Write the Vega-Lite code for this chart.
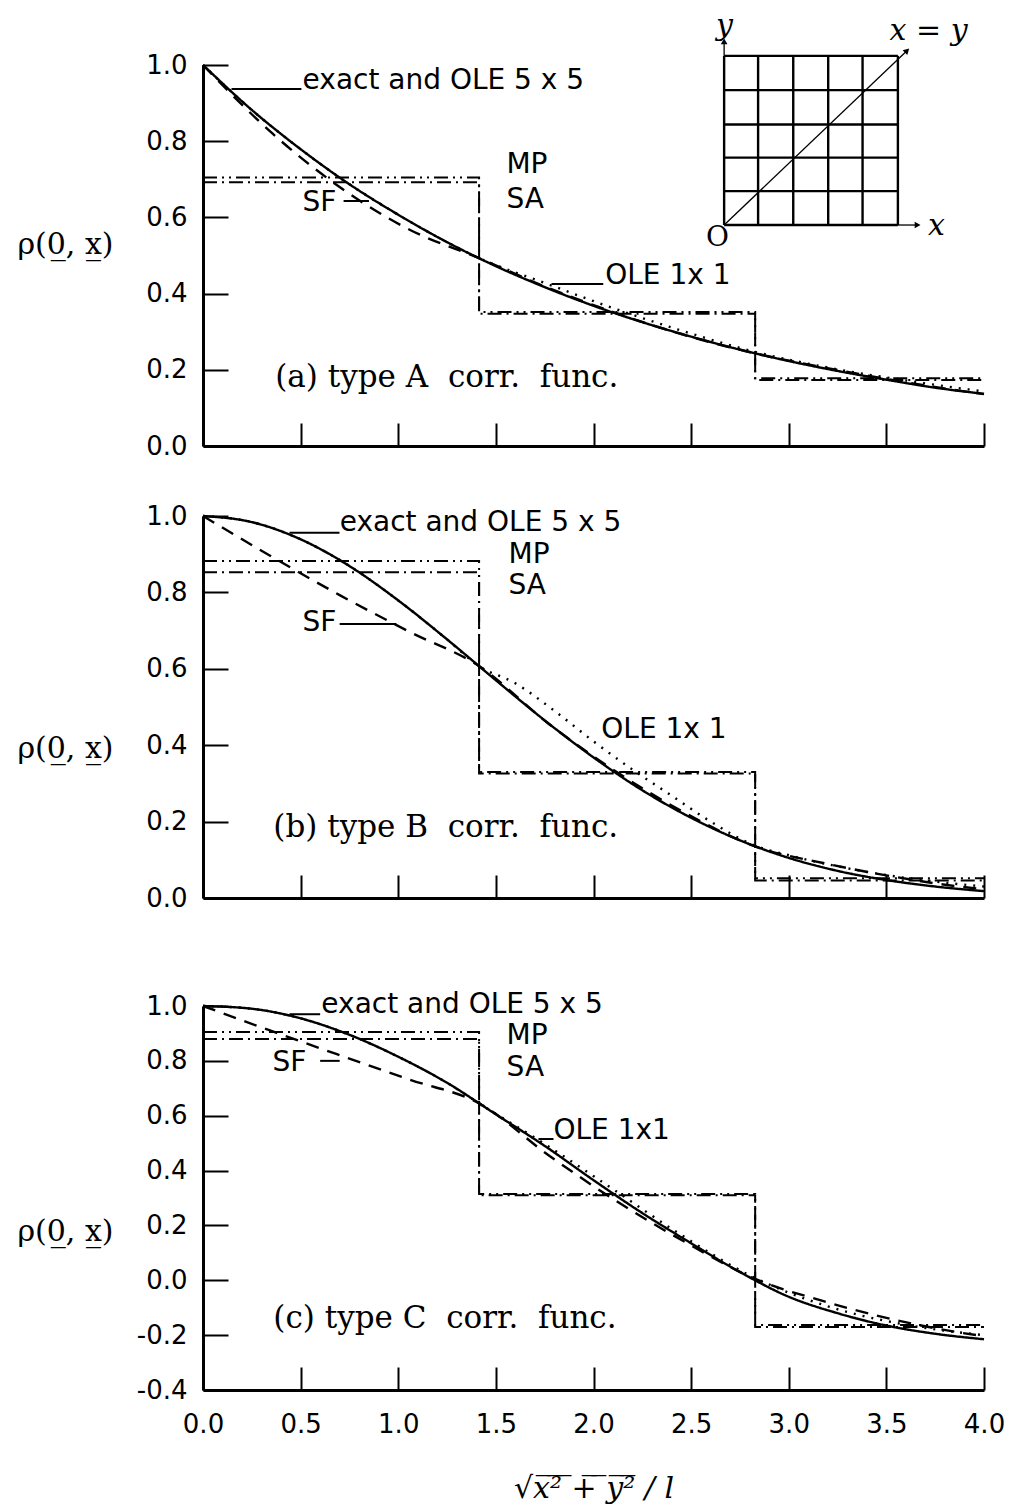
{
"$schema":"https://vega.github.io/schema/vega-lite/v6.json",
"padding":{"left":16,"top":11,"right":4,"bottom":4},
"background":"white",
"bounds":"flush",
"spacing":10,
"config":{
 "view":{"stroke":null},
 "axis":{"domainColor":"black","domainWidth":3,"tickColor":"black","tickWidth":2,"labelFont":"DejaVu Sans","labelFontSize":26,"labelColor":"black","grid":false,"titleFont":"DejaVu Serif","titleFontWeight":"normal","titleColor":"black","titleFontSize":30,"labelFlush":false,"labelOverlap":false,"labelExpr":"replace(datum.label, '\u2212', '-')"},
 "axisY":{"tickSize":-25,"labelPadding":41,"titleAngle":0,"titleX":-138,"titleAlign":"center","titleBaseline":"middle"},
 "axisX":{"tickSize":-23,"labelPadding":44}
},
"datasets":{
 "curves":[
{"p":"a","s":"exact","i":0,"x":0,"y":1},{"p":"a","s":"exact","i":1,"x":0.25,"y":0.882},{"p":"a","s":"exact","i":2,"x":0.5,"y":0.779},{"p":"a","s":"exact","i":3,"x":0.75,"y":0.687},{"p":"a","s":"exact","i":4,"x":1,"y":0.607},{"p":"a","s":"exact","i":5,"x":1.25,"y":0.535},{"p":"a","s":"exact","i":6,"x":1.5,"y":0.472},{"p":"a","s":"exact","i":7,"x":1.75,"y":0.417},{"p":"a","s":"exact","i":8,"x":2,"y":0.368},{"p":"a","s":"exact","i":9,"x":2.25,"y":0.325},{"p":"a","s":"exact","i":10,"x":2.5,"y":0.287},{"p":"a","s":"exact","i":11,"x":2.75,"y":0.253},{"p":"a","s":"exact","i":12,"x":3,"y":0.223},{"p":"a","s":"exact","i":13,"x":3.25,"y":0.197},{"p":"a","s":"exact","i":14,"x":3.5,"y":0.174},{"p":"a","s":"exact","i":15,"x":3.75,"y":0.153},{"p":"a","s":"exact","i":16,"x":4,"y":0.137},
{"p":"a","s":"SF","i":0,"x":0,"y":1},{"p":"a","s":"SF","i":1,"x":0.354,"y":0.821},{"p":"a","s":"SF","i":2,"x":0.707,"y":0.677},{"p":"a","s":"SF","i":3,"x":1.061,"y":0.567},{"p":"a","s":"SF","i":4,"x":1.414,"y":0.493},{"p":"a","s":"SF","i":5,"x":1.768,"y":0.415},{"p":"a","s":"SF","i":6,"x":2.121,"y":0.348},{"p":"a","s":"SF","i":7,"x":2.475,"y":0.29},{"p":"a","s":"SF","i":8,"x":2.828,"y":0.243},{"p":"a","s":"SF","i":9,"x":3.182,"y":0.206},{"p":"a","s":"SF","i":10,"x":3.536,"y":0.173},{"p":"a","s":"SF","i":11,"x":3.889,"y":0.144},{"p":"a","s":"SF","i":12,"x":4,"y":0.136},
{"p":"a","s":"OLE1","i":0,"x":0,"y":1},{"p":"a","s":"OLE1","i":1,"x":0.25,"y":0.882},{"p":"a","s":"OLE1","i":2,"x":0.5,"y":0.779},{"p":"a","s":"OLE1","i":3,"x":0.75,"y":0.687},{"p":"a","s":"OLE1","i":4,"x":1,"y":0.607},{"p":"a","s":"OLE1","i":5,"x":1.25,"y":0.535},{"p":"a","s":"OLE1","i":6,"x":1.414,"y":0.493},{"p":"a","s":"OLE1","i":7,"x":1.75,"y":0.428},{"p":"a","s":"OLE1","i":8,"x":2.1,"y":0.362},{"p":"a","s":"OLE1","i":9,"x":2.45,"y":0.303},{"p":"a","s":"OLE1","i":10,"x":2.828,"y":0.247},{"p":"a","s":"OLE1","i":11,"x":3.2,"y":0.206},{"p":"a","s":"OLE1","i":12,"x":3.6,"y":0.172},{"p":"a","s":"OLE1","i":13,"x":4,"y":0.143},
{"p":"a","s":"MP","i":0,"x":0,"y":0.705},{"p":"a","s":"MP","i":1,"x":1.414,"y":0.705},{"p":"a","s":"MP","i":2,"x":1.414,"y":0.352},{"p":"a","s":"MP","i":3,"x":2.828,"y":0.352},{"p":"a","s":"MP","i":4,"x":2.828,"y":0.178},{"p":"a","s":"MP","i":5,"x":4,"y":0.178},
{"p":"a","s":"SA","i":0,"x":0,"y":0.692},{"p":"a","s":"SA","i":1,"x":1.414,"y":0.692},{"p":"a","s":"SA","i":2,"x":1.414,"y":0.347},{"p":"a","s":"SA","i":3,"x":2.828,"y":0.347},{"p":"a","s":"SA","i":4,"x":2.828,"y":0.173},{"p":"a","s":"SA","i":5,"x":4,"y":0.173},
{"p":"b","s":"exact","i":0,"x":0,"y":1},{"p":"b","s":"exact","i":1,"x":0.25,"y":0.984},{"p":"b","s":"exact","i":2,"x":0.5,"y":0.939},{"p":"b","s":"exact","i":3,"x":0.75,"y":0.869},{"p":"b","s":"exact","i":4,"x":1,"y":0.779},{"p":"b","s":"exact","i":5,"x":1.25,"y":0.677},{"p":"b","s":"exact","i":6,"x":1.5,"y":0.57},{"p":"b","s":"exact","i":7,"x":1.75,"y":0.465},{"p":"b","s":"exact","i":8,"x":2,"y":0.368},{"p":"b","s":"exact","i":9,"x":2.25,"y":0.282},{"p":"b","s":"exact","i":10,"x":2.5,"y":0.21},{"p":"b","s":"exact","i":11,"x":2.75,"y":0.151},{"p":"b","s":"exact","i":12,"x":3,"y":0.105},{"p":"b","s":"exact","i":13,"x":3.25,"y":0.071},{"p":"b","s":"exact","i":14,"x":3.5,"y":0.047},{"p":"b","s":"exact","i":15,"x":3.75,"y":0.03},{"p":"b","s":"exact","i":16,"x":4,"y":0.018},
{"p":"b","s":"SF","i":0,"x":0,"y":1},{"p":"b","s":"SF","i":1,"x":0.354,"y":0.893},{"p":"b","s":"SF","i":2,"x":0.707,"y":0.791},{"p":"b","s":"SF","i":3,"x":1.061,"y":0.696},{"p":"b","s":"SF","i":4,"x":1.414,"y":0.607},{"p":"b","s":"SF","i":5,"x":1.768,"y":0.457},{"p":"b","s":"SF","i":6,"x":2.121,"y":0.329},{"p":"b","s":"SF","i":7,"x":2.475,"y":0.221},{"p":"b","s":"SF","i":8,"x":2.828,"y":0.135},{"p":"b","s":"SF","i":9,"x":3.182,"y":0.091},{"p":"b","s":"SF","i":10,"x":3.536,"y":0.056},{"p":"b","s":"SF","i":11,"x":3.889,"y":0.029},{"p":"b","s":"SF","i":12,"x":4,"y":0.023},
{"p":"b","s":"OLE1","i":0,"x":0,"y":1},{"p":"b","s":"OLE1","i":1,"x":0.25,"y":0.984},{"p":"b","s":"OLE1","i":2,"x":0.5,"y":0.939},{"p":"b","s":"OLE1","i":3,"x":0.75,"y":0.869},{"p":"b","s":"OLE1","i":4,"x":1,"y":0.779},{"p":"b","s":"OLE1","i":5,"x":1.25,"y":0.677},{"p":"b","s":"OLE1","i":6,"x":1.414,"y":0.607},{"p":"b","s":"OLE1","i":7,"x":1.6,"y":0.562},{"p":"b","s":"OLE1","i":8,"x":1.8,"y":0.49},{"p":"b","s":"OLE1","i":9,"x":2,"y":0.41},{"p":"b","s":"OLE1","i":10,"x":2.2,"y":0.336},{"p":"b","s":"OLE1","i":11,"x":2.4,"y":0.268},{"p":"b","s":"OLE1","i":12,"x":2.6,"y":0.2},{"p":"b","s":"OLE1","i":13,"x":2.828,"y":0.137},{"p":"b","s":"OLE1","i":14,"x":3,"y":0.112},{"p":"b","s":"OLE1","i":15,"x":3.25,"y":0.083},{"p":"b","s":"OLE1","i":16,"x":3.5,"y":0.06},{"p":"b","s":"OLE1","i":17,"x":3.75,"y":0.043},{"p":"b","s":"OLE1","i":18,"x":4,"y":0.03},
{"p":"b","s":"MP","i":0,"x":0,"y":0.882},{"p":"b","s":"MP","i":1,"x":1.414,"y":0.882},{"p":"b","s":"MP","i":2,"x":1.414,"y":0.33},{"p":"b","s":"MP","i":3,"x":2.828,"y":0.33},{"p":"b","s":"MP","i":4,"x":2.828,"y":0.052},{"p":"b","s":"MP","i":5,"x":4,"y":0.052},
{"p":"b","s":"SA","i":0,"x":0,"y":0.853},{"p":"b","s":"SA","i":1,"x":1.414,"y":0.853},{"p":"b","s":"SA","i":2,"x":1.414,"y":0.326},{"p":"b","s":"SA","i":3,"x":2.828,"y":0.326},{"p":"b","s":"SA","i":4,"x":2.828,"y":0.046},{"p":"b","s":"SA","i":5,"x":4,"y":0.046},
{"p":"c","s":"exact","i":0,"x":0,"y":1},{"p":"c","s":"exact","i":1,"x":0.25,"y":0.99},{"p":"c","s":"exact","i":2,"x":0.5,"y":0.955},{"p":"c","s":"exact","i":3,"x":0.75,"y":0.895},{"p":"c","s":"exact","i":4,"x":1,"y":0.815},{"p":"c","s":"exact","i":5,"x":1.25,"y":0.72},{"p":"c","s":"exact","i":6,"x":1.5,"y":0.605},{"p":"c","s":"exact","i":7,"x":1.75,"y":0.49},{"p":"c","s":"exact","i":8,"x":2,"y":0.365},{"p":"c","s":"exact","i":9,"x":2.25,"y":0.245},{"p":"c","s":"exact","i":10,"x":2.5,"y":0.135},{"p":"c","s":"exact","i":11,"x":2.75,"y":0.03},{"p":"c","s":"exact","i":12,"x":3,"y":-0.06},{"p":"c","s":"exact","i":13,"x":3.25,"y":-0.12},{"p":"c","s":"exact","i":14,"x":3.5,"y":-0.165},{"p":"c","s":"exact","i":15,"x":3.75,"y":-0.195},{"p":"c","s":"exact","i":16,"x":4,"y":-0.215},
{"p":"c","s":"SF","i":0,"x":0,"y":1},{"p":"c","s":"SF","i":1,"x":0.354,"y":0.908},{"p":"c","s":"SF","i":2,"x":0.707,"y":0.819},{"p":"c","s":"SF","i":3,"x":1.061,"y":0.731},{"p":"c","s":"SF","i":4,"x":1.414,"y":0.645},{"p":"c","s":"SF","i":5,"x":1.768,"y":0.457},{"p":"c","s":"SF","i":6,"x":2.121,"y":0.287},{"p":"c","s":"SF","i":7,"x":2.475,"y":0.137},{"p":"c","s":"SF","i":8,"x":2.828,"y":0.005},{"p":"c","s":"SF","i":9,"x":3.182,"y":-0.077},{"p":"c","s":"SF","i":10,"x":3.536,"y":-0.143},{"p":"c","s":"SF","i":11,"x":3.889,"y":-0.192},{"p":"c","s":"SF","i":12,"x":4,"y":-0.204},
{"p":"c","s":"OLE1","i":0,"x":0,"y":1},{"p":"c","s":"OLE1","i":1,"x":0.25,"y":0.99},{"p":"c","s":"OLE1","i":2,"x":0.5,"y":0.955},{"p":"c","s":"OLE1","i":3,"x":0.75,"y":0.895},{"p":"c","s":"OLE1","i":4,"x":1,"y":0.815},{"p":"c","s":"OLE1","i":5,"x":1.25,"y":0.72},{"p":"c","s":"OLE1","i":6,"x":1.414,"y":0.645},{"p":"c","s":"OLE1","i":7,"x":1.75,"y":0.497},{"p":"c","s":"OLE1","i":8,"x":2.1,"y":0.332},{"p":"c","s":"OLE1","i":9,"x":2.45,"y":0.165},{"p":"c","s":"OLE1","i":10,"x":2.828,"y":0.008},{"p":"c","s":"OLE1","i":11,"x":3.2,"y":-0.095},{"p":"c","s":"OLE1","i":12,"x":3.6,"y":-0.162},{"p":"c","s":"OLE1","i":13,"x":4,"y":-0.2},
{"p":"c","s":"MP","i":0,"x":0,"y":0.905},{"p":"c","s":"MP","i":1,"x":1.414,"y":0.905},{"p":"c","s":"MP","i":2,"x":1.414,"y":0.315},{"p":"c","s":"MP","i":3,"x":2.828,"y":0.315},{"p":"c","s":"MP","i":4,"x":2.828,"y":-0.163},{"p":"c","s":"MP","i":5,"x":4,"y":-0.163},
{"p":"c","s":"SA","i":0,"x":0,"y":0.88},{"p":"c","s":"SA","i":1,"x":1.414,"y":0.88},{"p":"c","s":"SA","i":2,"x":1.414,"y":0.31},{"p":"c","s":"SA","i":3,"x":2.828,"y":0.31},{"p":"c","s":"SA","i":4,"x":2.828,"y":-0.17},{"p":"c","s":"SA","i":5,"x":4,"y":-0.17}
 ],
 "labels":[
{"p":"a","f":"sans","t":"exact and OLE 5 x 5","x":0.51,"y":0.937},
{"p":"a","f":"sans","t":"MP","x":1.554,"y":0.717},
{"p":"a","f":"sans","t":"SA","x":1.554,"y":0.625},
{"p":"a","f":"sans","t":"SF","x":0.51,"y":0.617},
{"p":"a","f":"sans","t":"OLE 1x 1","x":2.06,"y":0.425},
{"p":"a","f":"serif","t":"(a)\u00a0type\u00a0A\u00a0\u00a0corr.\u00a0\u00a0func.","x":0.37,"y":0.155},
{"p":"b","f":"sans","t":"exact and OLE 5 x 5","x":0.70,"y":0.962},
{"p":"b","f":"sans","t":"MP","x":1.565,"y":0.876},
{"p":"b","f":"sans","t":"SA","x":1.565,"y":0.795},
{"p":"b","f":"sans","t":"SF","x":0.51,"y":0.699},
{"p":"b","f":"sans","t":"OLE 1x 1","x":2.04,"y":0.419},
{"p":"b","f":"serif","t":"(b)\u00a0type\u00a0B\u00a0\u00a0corr.\u00a0\u00a0func.","x":0.36,"y":0.16},
{"p":"c","f":"sans","t":"exact and OLE 5 x 5","x":0.606,"y":0.975},
{"p":"c","f":"sans","t":"MP","x":1.555,"y":0.862},
{"p":"c","f":"sans","t":"SA","x":1.555,"y":0.745},
{"p":"c","f":"sans","t":"SF","x":0.356,"y":0.763},
{"p":"c","f":"sans","t":"OLE 1x1","x":1.795,"y":0.515},
{"p":"c","f":"serif","t":"(c)\u00a0type\u00a0C\u00a0\u00a0corr.\u00a0\u00a0func.","x":0.36,"y":-0.175}
 ],
 "leaders":[
{"p":"a","x":0.146,"y":0.937,"x2":0.504,"y2":0.937},
{"p":"a","x":0.72,"y":0.643,"x2":0.85,"y2":0.643},
{"p":"a","x":1.785,"y":0.425,"x2":2.05,"y2":0.425},
{"p":"b","x":0.443,"y":0.956,"x2":0.699,"y2":0.956},
{"p":"b","x":0.70,"y":0.717,"x2":0.99,"y2":0.717},
{"p":"c","x":0.443,"y":0.97,"x2":0.60,"y2":0.97},
{"p":"c","x":0.60,"y":0.80,"x2":0.70,"y2":0.80},
{"p":"c","x":1.718,"y":0.515,"x2":1.795,"y2":0.515}
 ],
 "inset_lines":[
{"k":"grid","x":2.669,"y":0.580,"x2":2.669,"y2":1.024},
{"k":"grid","x":2.843,"y":0.580,"x2":2.843,"y2":1.024},
{"k":"grid","x":3.023,"y":0.580,"x2":3.023,"y2":1.024},
{"k":"grid","x":3.202,"y":0.580,"x2":3.202,"y2":1.024},
{"k":"grid","x":3.378,"y":0.580,"x2":3.378,"y2":1.024},
{"k":"grid","x":3.559,"y":0.580,"x2":3.559,"y2":1.024},
{"k":"grid","x":2.669,"y":0.580,"x2":3.559,"y2":0.580},
{"k":"grid","x":2.669,"y":0.669,"x2":3.559,"y2":0.669},
{"k":"grid","x":2.669,"y":0.757,"x2":3.559,"y2":0.757},
{"k":"grid","x":2.669,"y":0.844,"x2":3.559,"y2":0.844},
{"k":"grid","x":2.669,"y":0.934,"x2":3.559,"y2":0.934},
{"k":"grid","x":2.669,"y":1.024,"x2":3.559,"y2":1.024},
{"k":"thin","x":2.669,"y":1.024,"x2":2.669,"y2":1.058},
{"k":"thin","x":3.559,"y":0.580,"x2":3.65,"y2":0.580},
{"k":"thin","x":2.669,"y":0.580,"x2":3.60,"y2":1.035}
 ],
 "inset_arrows":[
{"x":2.669,"y":1.062,"sh":"triangle-up","a":0},
{"x":3.66,"y":0.580,"sh":"triangle-right","a":0},
{"x":3.606,"y":1.038,"sh":"triangle-up","a":46}
 ],
 "inset_text":[
{"st":"italic","t":"y","x":2.671,"y":1.102},
{"st":"italic","t":"x = y","x":3.716,"y":1.089},
{"st":"italic","t":"x","x":3.757,"y":0.577},
{"st":"normal","t":"O","x":2.635,"y":0.546}
 ],
 "empty":[]
},
"vconcat":[
{
 "width":781,"height":381,
 "layer":[
  {"data":{"name":"curves"},"transform":[{"filter":"datum.p==='a' && datum.s!=='MP' && datum.s!=='SA'"}],
   "mark":{"type":"line","interpolate":"monotone","color":"black","strokeWidth":2.4},
   "encoding":{
    "x":{"field":"x","type":"quantitative","scale":{"domain":[0,4],"nice":false,"zero":false},"axis":{"values":[0,0.5,1,1.5,2,2.5,3,3.5,4],"labels":false,"title":null}},
    "y":{"field":"y","type":"quantitative","scale":{"domain":[0,1],"nice":false,"zero":false},"axis":{"values":[0,0.2,0.4,0.6,0.8,1],"format":".1f","title":"ρ(0\u0332, x\u0332)","titleY":179}},
    "detail":{"field":"s"},"order":{"field":"i"},
    "strokeDash":{"field":"s","type":"nominal","scale":{"domain":["exact","SF","OLE1","MP","SA"],"range":[[1,0],[13,9],[2,7],[14,5,2,5,2,5],[14,5,2,5]]},"legend":null}}},
  {"data":{"name":"curves"},"transform":[{"filter":"datum.p==='a' && (datum.s==='MP' || datum.s==='SA')"}],
   "mark":{"type":"line","interpolate":"linear","color":"black","strokeWidth":2},
   "encoding":{
    "x":{"field":"x","type":"quantitative"},
    "y":{"field":"y","type":"quantitative"},
    "detail":{"field":"s"},"order":{"field":"i"},
    "strokeDash":{"field":"s","type":"nominal","scale":{"domain":["exact","SF","OLE1","MP","SA"],"range":[[1,0],[13,9],[2,7],[14,5,2,5,2,5],[14,5,2,5]]},"legend":null}}},
  {"data":{"name":"leaders"},"transform":[{"filter":"datum.p==='a'"}],
   "mark":{"type":"rule","color":"black","strokeWidth":2},
   "encoding":{"x":{"field":"x","type":"quantitative"},"y":{"field":"y","type":"quantitative"},"x2":{"field":"x2"},"y2":{"field":"y2"}}},
  {"data":{"name":"labels"},"transform":[{"filter":"datum.p==='a' && datum.f==='sans'"}],
   "mark":{"type":"text","align":"left","baseline":"alphabetic","font":"DejaVu Sans","fontSize":28,"color":"black"},
   "encoding":{"x":{"field":"x","type":"quantitative"},"y":{"field":"y","type":"quantitative"},"text":{"field":"t"}}},
  {"data":{"name":"labels"},"transform":[{"filter":"datum.p==='a' && datum.f==='serif'"}],
   "mark":{"type":"text","align":"left","baseline":"alphabetic","font":"DejaVu Serif","fontSize":31,"color":"black"},
   "encoding":{"x":{"field":"x","type":"quantitative"},"y":{"field":"y","type":"quantitative"},"text":{"field":"t"}}},
  {"data":{"name":"inset_lines"},
   "mark":{"type":"rule","color":"black"},
   "encoding":{"x":{"field":"x","type":"quantitative"},"y":{"field":"y","type":"quantitative"},"x2":{"field":"x2"},"y2":{"field":"y2"},
    "strokeWidth":{"field":"k","type":"nominal","scale":{"domain":["grid","thin"],"range":[2.4,1.3]},"legend":null}}},
  {"data":{"name":"inset_arrows"},
   "mark":{"type":"point","filled":true,"color":"black","opacity":1,"size":45},
   "encoding":{"x":{"field":"x","type":"quantitative"},"y":{"field":"y","type":"quantitative"},
    "shape":{"field":"sh","type":"nominal","scale":null},"angle":{"field":"a","type":"quantitative","scale":null}}},
  {"data":{"name":"inset_text"},"transform":[{"filter":"datum.st==='italic'"}],
   "mark":{"type":"text","align":"center","baseline":"middle","font":"DejaVu Serif","fontStyle":"italic","fontSize":30,"color":"black"},
   "encoding":{"x":{"field":"x","type":"quantitative"},"y":{"field":"y","type":"quantitative"},"text":{"field":"t"}}},
  {"data":{"name":"inset_text"},"transform":[{"filter":"datum.st==='normal'"}],
   "mark":{"type":"text","align":"center","baseline":"middle","font":"DejaVu Serif","fontSize":28,"color":"black"},
   "encoding":{"x":{"field":"x","type":"quantitative"},"y":{"field":"y","type":"quantitative"},"text":{"field":"t"}}}
 ]
},
{"width":781,"height":50,"data":{"name":"empty"},"mark":"point"},
{
 "width":781,"height":382,
 "layer":[
  {"data":{"name":"curves"},"transform":[{"filter":"datum.p==='b' && datum.s!=='MP' && datum.s!=='SA'"}],
   "mark":{"type":"line","interpolate":"monotone","color":"black","strokeWidth":2.4},
   "encoding":{
    "x":{"field":"x","type":"quantitative","scale":{"domain":[0,4],"nice":false,"zero":false},"axis":{"values":[0,0.5,1,1.5,2,2.5,3,3.5,4],"labels":false,"title":null}},
    "y":{"field":"y","type":"quantitative","scale":{"domain":[0,1],"nice":false,"zero":false},"axis":{"values":[0,0.2,0.4,0.6,0.8,1],"format":".1f","title":"ρ(0\u0332, x\u0332)","titleY":232}},
    "detail":{"field":"s"},"order":{"field":"i"},
    "strokeDash":{"field":"s","type":"nominal","scale":{"domain":["exact","SF","OLE1","MP","SA"],"range":[[1,0],[13,9],[2,7],[14,5,2,5,2,5],[14,5,2,5]]},"legend":null}}},
  {"data":{"name":"curves"},"transform":[{"filter":"datum.p==='b' && (datum.s==='MP' || datum.s==='SA')"}],
   "mark":{"type":"line","interpolate":"linear","color":"black","strokeWidth":2},
   "encoding":{
    "x":{"field":"x","type":"quantitative"},
    "y":{"field":"y","type":"quantitative"},
    "detail":{"field":"s"},"order":{"field":"i"},
    "strokeDash":{"field":"s","type":"nominal","scale":{"domain":["exact","SF","OLE1","MP","SA"],"range":[[1,0],[13,9],[2,7],[14,5,2,5,2,5],[14,5,2,5]]},"legend":null}}},
  {"data":{"name":"leaders"},"transform":[{"filter":"datum.p==='b'"}],
   "mark":{"type":"rule","color":"black","strokeWidth":2},
   "encoding":{"x":{"field":"x","type":"quantitative"},"y":{"field":"y","type":"quantitative"},"x2":{"field":"x2"},"y2":{"field":"y2"}}},
  {"data":{"name":"labels"},"transform":[{"filter":"datum.p==='b' && datum.f==='sans'"}],
   "mark":{"type":"text","align":"left","baseline":"alphabetic","font":"DejaVu Sans","fontSize":28,"color":"black"},
   "encoding":{"x":{"field":"x","type":"quantitative"},"y":{"field":"y","type":"quantitative"},"text":{"field":"t"}}},
  {"data":{"name":"labels"},"transform":[{"filter":"datum.p==='b' && datum.f==='serif'"}],
   "mark":{"type":"text","align":"left","baseline":"alphabetic","font":"DejaVu Serif","fontSize":31,"color":"black"},
   "encoding":{"x":{"field":"x","type":"quantitative"},"y":{"field":"y","type":"quantitative"},"text":{"field":"t"}}}
 ]
},
{"width":781,"height":88,"data":{"name":"empty"},"mark":"point"},
{
 "width":781,"height":384,
 "layer":[
  {"data":{"name":"curves"},"transform":[{"filter":"datum.p==='c' && datum.s!=='MP' && datum.s!=='SA'"}],
   "mark":{"type":"line","interpolate":"monotone","color":"black","strokeWidth":2.4},
   "encoding":{
    "x":{"field":"x","type":"quantitative","scale":{"domain":[0,4],"nice":false,"zero":false},"axis":{"values":[0,0.5,1,1.5,2,2.5,3,3.5,4],"format":".1f","title":"\u221ax\u0305\u00b2\u0305\u00a0\u0305+\u0305\u00a0\u0305y\u0305\u00b2\u0305 / l","titleFontStyle":"italic","titlePadding":36}},
    "y":{"field":"y","type":"quantitative","scale":{"domain":[-0.4,1],"nice":false,"zero":false},"axis":{"values":[-0.4,-0.2,0,0.2,0.4,0.6,0.8,1],"format":".1f","title":"ρ(0\u0332, x\u0332)","titleY":225}},
    "detail":{"field":"s"},"order":{"field":"i"},
    "strokeDash":{"field":"s","type":"nominal","scale":{"domain":["exact","SF","OLE1","MP","SA"],"range":[[1,0],[13,9],[2,7],[14,5,2,5,2,5],[14,5,2,5]]},"legend":null}}},
  {"data":{"name":"curves"},"transform":[{"filter":"datum.p==='c' && (datum.s==='MP' || datum.s==='SA')"}],
   "mark":{"type":"line","interpolate":"linear","color":"black","strokeWidth":2},
   "encoding":{
    "x":{"field":"x","type":"quantitative"},
    "y":{"field":"y","type":"quantitative"},
    "detail":{"field":"s"},"order":{"field":"i"},
    "strokeDash":{"field":"s","type":"nominal","scale":{"domain":["exact","SF","OLE1","MP","SA"],"range":[[1,0],[13,9],[2,7],[14,5,2,5,2,5],[14,5,2,5]]},"legend":null}}},
  {"data":{"name":"leaders"},"transform":[{"filter":"datum.p==='c'"}],
   "mark":{"type":"rule","color":"black","strokeWidth":2},
   "encoding":{"x":{"field":"x","type":"quantitative"},"y":{"field":"y","type":"quantitative"},"x2":{"field":"x2"},"y2":{"field":"y2"}}},
  {"data":{"name":"labels"},"transform":[{"filter":"datum.p==='c' && datum.f==='sans'"}],
   "mark":{"type":"text","align":"left","baseline":"alphabetic","font":"DejaVu Sans","fontSize":28,"color":"black"},
   "encoding":{"x":{"field":"x","type":"quantitative"},"y":{"field":"y","type":"quantitative"},"text":{"field":"t"}}},
  {"data":{"name":"labels"},"transform":[{"filter":"datum.p==='c' && datum.f==='serif'"}],
   "mark":{"type":"text","align":"left","baseline":"alphabetic","font":"DejaVu Serif","fontSize":31,"color":"black"},
   "encoding":{"x":{"field":"x","type":"quantitative"},"y":{"field":"y","type":"quantitative"},"text":{"field":"t"}}}
 ]
}
]
}
